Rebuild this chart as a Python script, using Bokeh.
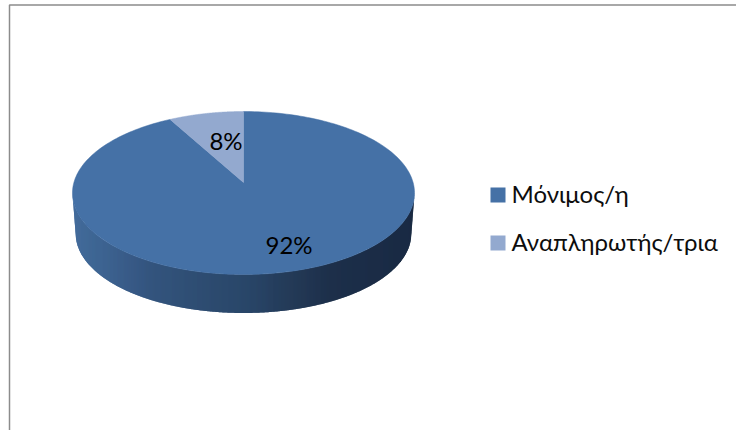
import numpy as np
from bokeh.embed import file_html
from bokeh.resources import INLINE
from bokeh.plotting import figure
from bokeh.models import Range1d
from bokeh.core.properties import value

# Shares of the two employment categories, in percent
categories = ["Μόνιμος/η", "Αναπληρωτής/τρια"]
shares = [92, 8]
share_labels = ["92%", "8%"]
colors = ["#4571a6", "#93a9cf"]

FONT = "Lato"

p = figure(width=736, height=430, output_backend="svg", toolbar_location=None,
           x_range=Range1d(0, 736), y_range=Range1d(430, 0),
           min_border=0, outline_line_color=None)
p.axis.visible = False
p.grid.visible = False
p.background_fill_color = "white"
p.border_fill_color = "white"

# Perspective projection of the pie's unit circle onto the page
CX, CY = 243.0, 182.0
PERSP = 0.1288
SX, SY = 169.6, 80.15


def project(theta):
    """theta is measured clockwise from the top of the pie, in radians."""
    u, v = np.sin(theta), np.cos(theta)
    w = 1 + PERSP * v
    return CX + SX * u / w, CY - SY * v / w


# Side wall: narrow columns under the front edge, shaded left to right.
# Each column reaches over its right neighbour, which paints on top, so no seams show.
stops_x = [72, 150, 243, 330, 414]
stops_rgb = np.array([[66, 107, 156], [52, 85, 126], [42, 70, 105], [29, 48, 74], [25, 42, 66]])
DEPTH = 40.0
FRONT_DEPTH = 38.5
TAPER = 0.982

# Keep only the front arc, between the pie's leftmost and rightmost points
th = np.linspace(0, 2 * np.pi, 2881)
tx, ty = project(th)
i_right, i_left = int(np.argmax(tx)), int(np.argmin(tx))
arc = th[i_right:i_left + 1]
tx, ty = project(arc)
tx, ty = tx[::-1], ty[::-1]
bx = CX + (tx - CX) * TAPER
# The wall is a little deeper at the sides than at the very front
by = ty + FRONT_DEPTH + (DEPTH - FRONT_DEPTH) * (np.abs(tx - CX) / (tx.max() - CX)) ** 2

# Bottom silhouette: short slanted ends, then the lower arc
sil_x = np.r_[tx[0], bx, tx[-1]]
sil_y = np.r_[ty[0], by, ty[-1]]

columns = np.arange(tx.min(), tx.max(), 0.5)
col_xs, col_ys, col_colors = [], [], []
for x in columns:
    xr = min(x + 1.0, tx.max())
    yt = np.interp([x, xr], tx, ty)
    yb = np.interp([x, xr], sil_x, sil_y)
    rgb = [np.interp(x + 0.25, stops_x, stops_rgb[:, c]) for c in range(3)]
    col_xs.append([x, xr, xr, x])
    col_ys.append([yt[0], yt[1], yb[1], yb[0]])
    col_colors.append("#%02x%02x%02x" % tuple(int(round(c)) for c in rgb))
p.patches(col_xs, col_ys, fill_color=col_colors, line_color=None)

# Top face: slices run clockwise from twelve o'clock
fractions = np.array(shares, dtype=float) / sum(shares)
span_start = 0.0
for frac, color in zip(fractions, colors):
    t = np.linspace(span_start, span_start + 2 * np.pi * frac, 240)
    ex, ey = project(t)
    p.patch(np.r_[CX, ex], np.r_[CY, ey], fill_color=color, line_color=color, line_width=0.5)
    span_start += 2 * np.pi * frac

# Slice value labels
p.text([288.5, 225.5], [244, 139.5], text=share_labels, text_font=value(FONT), text_font_size="24px",
       text_color="#000000", text_align="center", text_baseline="alphabetic")

# Legend
p.scatter([497.5, 497.5], [194.5, 242.5], marker="square", size=15, fill_color=colors, line_color=None)
p.text([511, 511], [192.5, 240.5], text=categories, text_font=value(FONT), text_font_size="24px",
       text_color="#0d0d0d", text_align="left", text_baseline="alphabetic")

# Chart frame
p.line([9, 9, 736], [430, 4.5, 4.5], line_color="#8c8c8c", line_width=1.5)

open("out.html", "w").write(file_html(p, INLINE))
